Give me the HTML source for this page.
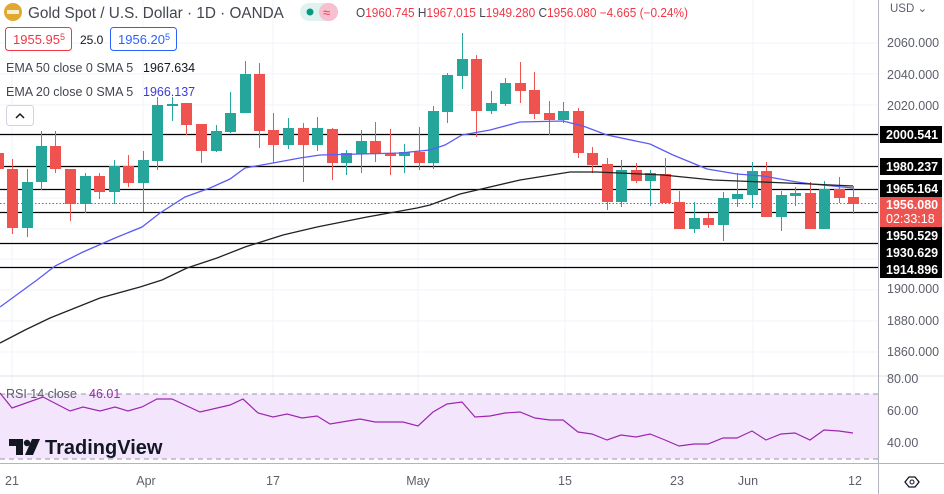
<!DOCTYPE html>
<html><head><meta charset="utf-8"><style>
body{margin:0;width:944px;height:494px;overflow:hidden;background:#fff;font-family:"Liberation Sans",sans-serif;}
svg{position:absolute;left:0;top:0}
</style></head><body>
<svg id="s" width="944" height="494" xmlns="http://www.w3.org/2000/svg"></svg>
<script>
var o=[];
function a(t){o.push(t);}
[43,74,105,136,167,198,229,259,290,321,352].forEach(function(y){a('<line x1="0" x2="878" y1="'+y+'" y2="'+y+'" stroke="#f0f3fa"/>');});
[12,143,273,418,565,652,753,854].forEach(function(x){a('<line x1="'+x+'" x2="'+x+'" y1="0" y2="463" stroke="#f0f3fa"/>');});
a('<rect x="0" y="394" width="878" height="65" fill="#f3e6fc"/>');
a('<line x1="0" x2="878" y1="394" y2="394" stroke="#9598a1" stroke-dasharray="5,4"/>');
a('<line x1="0" x2="878" y1="459" y2="459" stroke="#9598a1" stroke-dasharray="5,4"/>');
a('<line x1="0" x2="944" y1="376" y2="376" stroke="#e0e3eb"/>');
a('<line x1="0" x2="944" y1="463.5" y2="463.5" stroke="#b2b5be"/>');
a('<line x1="878.5" x2="878.5" y1="0" y2="494" stroke="#b2b5be"/>');
[134,166,189,212,243,267].forEach(function(y){a('<line x1="0" x2="878" y1="'+(y+.5)+'" y2="'+(y+.5)+'" stroke="#000" stroke-width="1.2"/>');});
a('<line x1="0" x2="878" y1="203.5" y2="203.5" stroke="#f23645" stroke-dasharray="1.5,2"/>');
var C=[[-2,153,169,150,172,0],[12,169,228,159,234,0],[27,182,228,169,237,1],[41,146,182,131,190,1],[55,146,169,131,173,0],[70,169,204,169,221,0],[85,176,204,173,213,1],[99,176,192,173,199,0],[114,166,192,160,204,1],[128,166,183,155,187,0],[143,160,183,151,212,1],
[157,105,161,97,170,1],[172,104,106,97,121,1],[186,103,125,103,135,0],[201,124,151,124,163,0],[216,131,151,125,152,1],[230,113,132,92,133,1],[245,74,113,61,113,1],[259,74,131,63,148,0],[273,130,145,113,163,0],[288,128,145,118,149,1],
[303,128,145,123,182,0],[317,128,145,117,151,1],[332,129,163,128,180,0],[346,153,163,150,175,1],[361,141,154,130,173,1],[375,141,154,122,162,0],[390,153,156,129,175,0],[404,152,156,144,173,1],[419,152,163,127,170,0],[433,111,163,106,169,1],
[447,75,112,73,123,1],[462,59,76,33,89,1],[476,59,111,55,137,0],[491,103,111,91,114,1],[505,83,104,78,106,1],[520,83,91,62,103,0],[534,90,114,72,119,0],[549,113,120,101,135,0],[563,111,120,102,123,1],[578,111,153,108,158,0],
[592,153,165,147,173,0],[607,164,202,158,210,0],[621,170,202,160,207,1],[636,170,181,163,183,0],[650,173,181,170,206,1],[665,174,203,158,203,0],[679,202,229,191,229,0],[694,218,229,202,233,1],[708,218,225,213,228,0],[723,198,225,192,241,1],
[737,194,199,173,207,1],[752,171,195,162,208,1],[766,171,217,162,217,0],[781,195,217,191,231,1],[795,193,196,187,206,1],[810,193,229,182,229,0],[824,189,229,181,229,1],[839,189,198,177,203,0],[853,197,204,186,214,0]];
C.forEach(function(c){var col=c[5]?'#26a69a':'#ef5350';
a('<line x1="'+(c[0]+.5)+'" x2="'+(c[0]+.5)+'" y1="'+c[3]+'" y2="'+c[4]+'" stroke="'+col+'"/>');
a('<rect x="'+(c[0]-5)+'" y="'+c[1]+'" width="11" height="'+Math.max(2,c[2]-c[1])+'" fill="'+col+'"/>');});
function pl(p,col,w){a('<polyline fill="none" stroke="'+col+'" stroke-width="'+w+'" points="'+p+'"/>');}
pl('0,307 37,280 55,266 83,252 115,238 142,227 160,213 185,197 210,188 230,179 245,168 273,163 300,158 320,155 360,154 400,153 430,150 445,145 462,135 490,130 520,122 563,121 583,126 607,135 650,144 673,155 707,169 737,174 763,176 797,182 812,184 853,188','#5b5bf5',1.3);
pl('0,343 25,330 50,318 100,298 140,287 162,280 187,268 217,258 245,247 283,235 317,227 367,217 417,208 430,205 460,194 520,180 570,172 597,172 663,175 713,180 763,182 810,184 853,186','#222',1.3);
pl('0,393 12,408 43,397 70,411 83,407 100,411 115,407 128,411 142,407 157,399 172,399 200,412 230,405 243,399 258,413 273,417 287,414 302,418 317,416 330,424 360,419 375,422 403,422 418,426 433,412 447,404 462,402 475,417 490,416 505,413 520,412 535,418 550,420 563,420 578,432 592,434 607,440 621,435 636,437 650,434 665,440 679,446 694,444 708,444 723,438 737,438 752,431 766,440 781,434 795,433 810,440 824,430 839,431 853,433','#9c27b0',1.2);
function tx(x,y,t,col,sz,extra){a('<text x="'+x+'" y="'+y+'" fill="'+col+'" font-size="'+sz+'" '+(extra||'')+'>'+t+'</text>');}
[[2060,47],[2040,79],[2020,110],[1900,293],[1880,325],[1860,356]].forEach(function(v){tx(887,v[1],v[0]+'.000','#5d606b',12.5);});
tx(887,383,'80.00','#5d606b',12.5);tx(887,415,'60.00','#5d606b',12.5);tx(887,447,'40.00','#5d606b',12.5);
tx(890,12,'USD ⌄','#5d606b',11.5);
[[2000.541,134],[1980.237,166],[1965.164,188],[1950.529,235],[1930.629,252],[1914.896,269]].forEach(function(v){
a('<rect x="880" y="'+(v[1]-8)+'" width="62" height="17" fill="#000"/>');tx(886,v[1]+5,v[0].toFixed(3),'#fff',12.5,'font-weight="bold"');});
a('<rect x="880" y="197" width="62" height="30" fill="#ef5350"/>');
tx(886,209,'1956.080','#fff',12.5,'font-weight="bold"');tx(886,223,'02:33:18','#fff',12.5);
a('<polygon points="905,482 909,477 915,477 919,482 915,487 909,487" fill="none" stroke="#131722" stroke-width="1.3"/><circle cx="912" cy="482" r="2" fill="none" stroke="#131722"/>');
[[12,'21'],[146,'Apr'],[273,'17'],[418,'May'],[565,'15'],[677,'23'],[748,'Jun'],[855,'12']].forEach(function(v){tx(v[0],485,v[1],'#5d606b',12.5,'text-anchor="middle"');});
a('<circle cx="13" cy="12" r="9" fill="#e0a82e"/><rect x="7" y="10" width="12" height="4" fill="#fff" opacity=".8"/>');
tx(28,18,'Gold Spot / U.S. Dollar · 1D · OANDA','#434651',15.3);
a('<rect x="300" y="3" width="38" height="18" rx="9" fill="#e0f2ef"/><rect x="319" y="3" width="19" height="18" rx="9" fill="#f7bfd0"/><circle cx="310" cy="12" r="3.5" fill="#089981"/>');
tx(323,17,'≈','#f23645',13);
a('<text x="356" y="17" font-size="12.5" textLength="332" lengthAdjust="spacingAndGlyphs"><tspan fill="#434651">O</tspan><tspan fill="#f23645">1960.745 </tspan><tspan fill="#434651">H</tspan><tspan fill="#f23645">1967.015 </tspan><tspan fill="#434651">L</tspan><tspan fill="#f23645">1949.280 </tspan><tspan fill="#434651">C</tspan><tspan fill="#f23645">1956.080 −4.665 (−0.24%)</tspan></text>');
a('<rect x="5.5" y="27.5" width="66" height="23" rx="3" fill="#fff" stroke="#f23645"/>');
a('<text x="13" y="44" font-size="13" fill="#f23645">1955.95<tspan font-size="9" dy="-4">5</tspan></text>');
tx(80,44,'25.0','#131722',12);
a('<rect x="110.5" y="27.5" width="66" height="23" rx="3" fill="#fff" stroke="#2962ff"/>');
a('<text x="118" y="44" font-size="13" fill="#2962ff">1956.20<tspan font-size="9" dy="-4">5</tspan></text>');
tx(6,72,'EMA 50 close 0 SMA 5','#434651',12.5);tx(143,72,'1967.634','#131722',12.5);
tx(6,96,'EMA 20 close 0 SMA 5','#434651',12.5);tx(143,96,'1966.137','#3c3cd6',12.5);
a('<rect x="6.5" y="105.5" width="27" height="20" rx="3" fill="#fff" stroke="#d1d4dc"/><polyline points="16,118 20,114 24,118" fill="none" stroke="#131722" stroke-width="1.5"/>');
tx(6,398,'RSI 14 close','#5d606b',12.5);tx(89,398,'46.01','#9c27b0',12.5);
a('<path d="M9,439 H23 V455 H16 V446 H9 Z" fill="#131722"/><circle cx="27" cy="443" r="3.2" fill="#131722"/><path d="M32,439 H40 L33,455 H25 Z" fill="#131722"/>');
tx(45,454,'TradingView','#131722',20,'font-weight="bold"');
document.getElementById('s').innerHTML=o.join('');
</script>
</body></html>
